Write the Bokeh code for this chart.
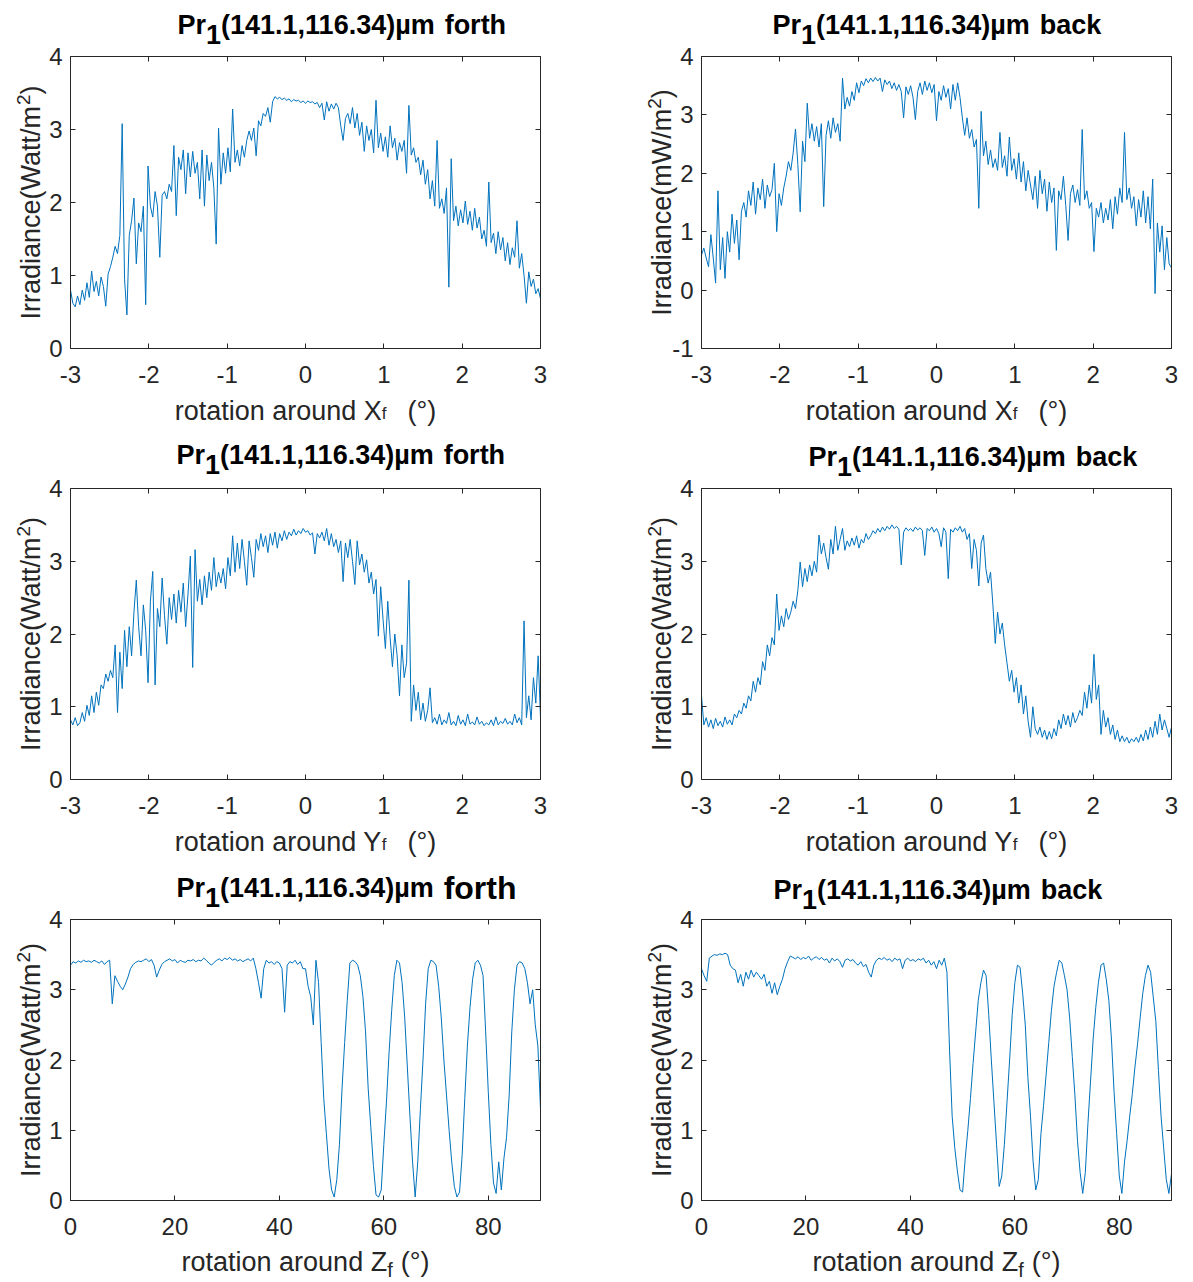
import numpy as np
from bokeh.plotting import figure
from bokeh.models import Range1d, LinearAxis, Label, FixedTicker
from bokeh.layouts import column, row
from bokeh.embed import file_html
from bokeh.resources import INLINE

# ---------------- data ----------------
rot_xy_limits = (-3.0, 3.0)      # degrees, evenly sampled
rot_z_limits = (0.0, 90.0)       # degrees, evenly sampled

irr_x_forth = [
    0.80, 0.62, 0.57, 0.72, 0.60, 0.80, 0.66, 0.90, 0.70, 1.06,
    0.78, 0.92, 0.72, 0.98, 0.85, 0.58, 1.02, 1.12, 1.25, 1.40,
    1.30, 1.55, 3.08, 0.95, 0.46, 1.55, 1.75, 2.06, 1.16, 1.72,
    1.60, 1.95, 0.60, 2.50, 1.95, 1.80, 2.15, 1.95, 1.25, 2.10,
    2.15, 2.05, 2.25, 2.15, 2.78, 1.82, 2.62, 2.45, 2.72, 2.12,
    2.68, 2.35, 2.70, 2.40, 2.55, 2.05, 2.72, 1.95, 2.65, 2.30,
    2.55, 2.20, 1.43, 3.02, 2.25, 2.68, 2.40, 2.75, 2.42, 3.28,
    2.55, 2.72, 2.50, 2.78, 2.62, 2.85, 2.98, 2.85, 3.02, 2.64,
    3.12, 3.05, 3.22, 3.18, 3.30, 3.10, 3.38, 3.45, 3.42, 3.44,
    3.41, 3.43, 3.40, 3.42, 3.38, 3.41, 3.39, 3.40, 3.37, 3.39,
    3.36, 3.39, 3.37, 3.38, 3.35, 3.37, 3.30, 3.36, 3.13, 3.38,
    3.25, 3.35, 3.28, 3.36, 3.30, 3.05, 2.85, 3.15, 3.22, 3.08,
    3.30, 3.02, 3.22, 2.92, 3.10, 2.70, 3.05, 2.85, 3.00, 2.68,
    3.40, 2.75, 2.95, 2.70, 2.90, 2.62, 3.05, 2.75, 2.88, 2.58,
    2.82, 2.70, 2.85, 2.40, 3.33, 2.65, 2.75, 2.55, 2.62, 2.38,
    2.58, 2.25, 2.45, 2.05, 2.30, 1.95, 2.85, 1.92, 2.05, 1.85,
    2.20, 0.84, 2.60, 1.75, 1.95, 1.68, 1.90, 1.72, 2.02, 1.70,
    1.88, 1.62, 1.92, 1.65, 1.80, 1.50, 1.62, 1.40, 2.28, 1.45,
    1.58, 1.30, 1.60, 1.35, 1.52, 1.20, 1.45, 1.15, 1.38, 1.25,
    1.75, 1.10, 1.30, 1.00, 0.62, 1.05, 0.85, 0.95, 0.75, 0.82,
    0.68]

irr_x_back = [
    0.60, 0.72, 0.55, 0.40, 0.95, 0.55, 0.12, 1.70, 0.35, 0.90,
    0.20, 1.00, 0.65, 1.30, 0.80, 1.20, 0.52, 1.35, 1.50, 1.25,
    1.70, 1.45, 1.85, 1.30, 1.75, 1.55, 1.90, 1.40, 1.80, 1.60,
    1.72, 2.17, 1.00, 1.65, 1.45, 1.75, 1.95, 2.20, 2.05, 2.35,
    2.76, 2.15, 1.34, 2.55, 2.20, 3.20, 2.60, 2.85, 2.55, 2.80,
    2.45, 2.85, 1.43, 2.65, 2.90, 2.60, 2.95, 2.70, 2.85, 2.55,
    3.63, 3.10, 3.30, 3.15, 3.40, 3.25, 3.55, 3.38, 3.58, 3.50,
    3.62, 3.55, 3.63, 3.57, 3.64, 3.58, 3.63, 3.40, 3.60, 3.52,
    3.58, 3.45, 3.55, 3.42, 3.52, 3.40, 2.95, 3.48, 3.35, 3.50,
    3.30, 2.92, 3.40, 3.55, 3.35, 3.58, 3.42, 3.55, 3.38, 3.52,
    2.90, 3.40, 3.25, 3.50, 3.30, 3.45, 3.10, 3.52, 3.25, 3.55,
    3.30, 2.95, 2.65, 2.95, 2.60, 2.75, 2.45, 2.58, 1.40, 3.06,
    2.30, 2.55, 2.15, 2.40, 2.10, 2.25, 2.05, 2.70, 2.10, 2.30,
    1.95, 2.62, 2.05, 2.25, 1.90, 2.35, 1.85, 2.20, 1.70, 2.05,
    1.80, 1.55, 1.95, 1.40, 2.05, 1.65, 1.90, 1.35, 1.85, 1.50,
    1.75, 0.68, 1.70, 1.55, 1.95, 1.45, 0.85, 1.65, 1.80, 1.50,
    1.72, 1.45, 2.75, 1.55, 1.70, 1.40, 1.50, 0.66, 1.40, 1.25,
    1.50, 1.15, 1.40, 1.20, 1.55, 1.05, 1.60, 1.30, 1.75, 1.50,
    2.70, 1.55, 1.75, 1.40, 1.60, 1.10, 1.55, 1.25, 1.70, 1.15,
    1.60, 1.05, 1.90, -0.06, 1.15, 0.65, 1.10, 0.35, 0.90, 0.45,
    0.38]

irr_y_forth = [
    0.82, 0.75, 0.85, 0.74, 0.78, 0.92, 0.80, 1.02, 0.88, 1.15,
    0.92, 1.20, 1.02, 1.30, 1.25, 1.45, 1.35, 1.50, 1.40, 1.85,
    0.92, 1.75, 1.25, 2.05, 1.55, 2.10, 1.70, 2.30, 2.74, 2.10,
    1.70, 2.40, 2.05, 1.33, 2.45, 2.86, 1.30, 2.35, 2.10, 2.77,
    2.25, 1.86, 2.50, 2.20, 2.55, 2.15, 2.60, 2.30, 2.70, 2.10,
    2.55, 3.07, 1.54, 3.16, 2.45, 2.75, 2.40, 2.80, 2.50, 2.85,
    2.60, 3.05, 2.65, 2.85, 2.70, 2.90, 2.62, 3.05, 2.80, 3.35,
    2.85, 3.25, 2.90, 3.30, 3.00, 2.67, 3.28, 3.05, 2.78, 3.30,
    3.15, 3.38, 3.20, 3.35, 3.12, 3.38, 3.22, 3.40, 3.18, 3.38,
    3.28, 3.42, 3.30, 3.40, 3.35, 3.44, 3.36, 3.42, 3.38, 3.45,
    3.40, 3.42, 3.36, 3.39, 3.10, 3.38, 3.32, 3.40, 3.28, 3.45,
    3.22, 3.38, 3.20, 3.30, 3.12, 3.28, 2.72, 3.25, 3.05, 3.30,
    3.00, 2.68, 3.28, 2.95, 3.10, 2.85, 3.02, 2.70, 2.85, 2.55,
    2.75, 1.97, 2.65, 2.20, 1.80, 2.45, 1.95, 1.55, 2.00, 1.70,
    1.15, 1.85, 1.40, 1.60, 2.74, 0.80, 1.30, 0.95, 1.20, 0.82,
    1.05, 0.80, 0.95, 1.26, 0.78, 0.85, 0.76, 0.90, 0.75, 0.82,
    0.77, 0.92, 0.75, 0.80, 0.74, 0.88, 0.76, 0.82, 0.74, 0.90,
    0.76, 0.79, 0.75, 0.86, 0.76, 0.80, 0.74, 0.78, 0.75, 0.82,
    0.74, 0.86, 0.75, 0.80, 0.77, 0.84, 0.76, 0.80, 0.75, 0.90,
    0.78, 0.85, 0.75, 2.18, 0.85, 1.15, 0.82, 1.40, 1.05, 1.70,
    0.85]

irr_y_back = [
    1.15, 0.75, 0.85, 0.72, 0.82, 0.70, 0.84, 0.74, 0.80, 0.72,
    0.86, 0.76, 0.82, 0.75, 0.90, 0.85, 0.95, 0.90, 1.05, 0.98,
    1.15, 1.08, 1.35, 1.20, 1.40, 1.30, 1.62, 1.50, 1.85, 1.70,
    1.95, 1.85, 2.55, 2.05, 2.25, 2.10, 2.35, 2.20, 2.30, 2.45,
    2.35, 2.60, 2.99, 2.65, 2.90, 2.72, 2.95, 2.80, 3.00, 2.85,
    3.36, 3.10, 3.25, 3.05, 2.89, 3.30, 3.10, 3.48, 3.15, 3.30,
    3.45, 3.15, 3.28, 3.20, 3.32, 3.22, 3.35, 3.18, 3.30, 3.25,
    3.38, 3.30, 3.35, 3.42, 3.38, 3.45, 3.40, 3.47, 3.42, 3.48,
    3.44, 3.50, 3.45, 3.48, 3.44, 2.95, 3.40, 3.46, 3.42, 3.45,
    3.41, 3.47, 3.43, 3.46, 3.42, 3.08, 3.45, 3.42, 3.47, 3.40,
    3.45, 3.38, 3.20, 3.46, 3.40, 2.76, 3.44, 3.40, 3.46, 3.42,
    3.48, 3.40, 3.45, 3.30, 3.38, 2.90, 3.30, 3.15, 2.66, 3.25,
    3.36, 2.90, 2.70, 2.85, 2.40, 1.87, 2.30, 2.00, 2.15, 1.85,
    1.60, 1.35, 1.50, 1.20, 1.40, 1.05, 1.30, 0.90, 1.15, 0.80,
    0.58, 1.00, 0.70, 0.62, 0.72, 0.58, 0.68, 0.55, 0.66, 0.56,
    0.70, 0.60, 0.82, 0.70, 0.90, 0.75, 0.88, 0.72, 0.92, 0.78,
    0.85, 0.95, 0.88, 1.20, 0.98, 1.30, 1.05, 1.72, 1.10, 1.30,
    0.62, 0.95, 0.72, 0.85, 0.62, 0.75, 0.55, 0.68, 0.52, 0.60,
    0.52, 0.58, 0.50, 0.56, 0.52, 0.58, 0.51, 0.62, 0.53, 0.68,
    0.55, 0.72, 0.58, 0.80, 0.62, 0.90, 0.68, 0.82, 0.70, 0.58,
    0.72]

irr_z_forth = [
    3.35, 3.40, 3.38, 3.41, 3.39, 3.42, 3.40, 3.41, 3.39, 3.42,
    3.40, 3.38, 3.41, 3.36, 3.40, 3.42, 2.80, 3.20, 3.12, 3.05,
    3.00, 3.08, 3.18, 3.30, 3.36, 3.39, 3.41, 3.40, 3.42, 3.44,
    3.40, 3.43, 3.35, 3.18, 3.28, 3.36, 3.40, 3.42, 3.44, 3.41,
    3.43, 3.38, 3.42, 3.40, 3.39, 3.42, 3.41, 3.43, 3.40, 3.42,
    3.41, 3.45, 3.42, 3.38, 3.35, 3.39, 3.42, 3.44, 3.41, 3.45,
    3.43, 3.46, 3.42, 3.44, 3.41, 3.43, 3.40, 3.42, 3.44, 3.41,
    3.45, 3.30, 3.10, 2.88, 3.30, 3.42, 3.38, 3.40, 3.36, 3.40,
    3.38, 3.30, 2.68, 3.35, 3.40, 3.38, 3.42, 3.36, 3.40, 3.30,
    3.30, 3.05, 2.90, 2.50, 3.42, 3.10, 2.25, 1.45, 0.95, 0.45,
    0.15, 0.05, 0.30, 0.80, 1.60, 2.25, 2.85, 3.38, 3.42, 3.40,
    3.35, 3.20, 2.90, 2.40, 1.60, 1.05, 0.50, 0.08, 0.05, 0.15,
    0.80, 1.40, 2.10, 2.70, 3.20, 3.42, 3.38, 3.10, 2.60, 1.90,
    1.20, 0.55, 0.05, 0.55, 1.30, 2.00, 2.80, 3.30, 3.42, 3.40,
    3.35, 3.05, 2.60, 2.00, 1.50, 1.00, 0.55, 0.20, 0.05, 0.12,
    0.65, 1.45, 2.20, 2.75, 3.15, 3.38, 3.42, 3.35, 3.20, 2.40,
    1.55, 0.80, 0.25, 0.10, 0.55, 0.15, 0.60, 0.90, 1.50, 2.40,
    3.00, 3.35, 3.40, 3.38, 3.30, 3.10, 2.80, 3.00, 2.50, 2.20,
    1.30]

irr_z_back = [
    3.30, 3.20, 3.12, 3.45, 3.48, 3.50, 3.49, 3.51, 3.50, 3.52,
    3.50, 3.35, 3.30, 3.28, 3.10, 3.22, 3.05, 3.25, 3.15, 3.28,
    3.18, 3.25, 3.20, 3.15, 3.22, 3.05, 3.12, 2.95, 3.10, 2.93,
    3.05, 3.15, 3.30, 3.40, 3.48, 3.46, 3.44, 3.47, 3.43, 3.46,
    3.44, 3.48, 3.42, 3.45, 3.47, 3.43, 3.46, 3.42, 3.44, 3.38,
    3.45, 3.41, 3.44, 3.40, 3.32, 3.42, 3.44, 3.41, 3.43, 3.38,
    3.35, 3.40, 3.33, 3.36, 3.25, 3.18, 3.35, 3.42, 3.45, 3.43,
    3.46, 3.42, 3.44, 3.40, 3.45, 3.42, 3.44, 3.30, 3.42, 3.45,
    3.41, 3.43, 3.40, 3.44, 3.42, 3.45, 3.38, 3.42, 3.35, 3.40,
    3.30, 3.42, 3.35, 3.45, 3.25, 2.14, 1.20, 0.75, 0.42, 0.15,
    0.12, 0.60, 1.00, 1.45, 1.95, 2.40, 2.85, 3.10, 3.28, 3.20,
    2.65, 2.00, 1.40, 0.80, 0.20, 0.35, 0.80, 1.40, 2.00, 2.65,
    3.10, 3.35, 3.32, 2.95, 2.50, 1.75, 1.20, 0.55, 0.15, 0.30,
    0.95, 1.35, 1.80, 2.25, 2.70, 3.05, 3.25, 3.42, 3.38, 3.20,
    3.00, 2.60, 2.05, 1.50, 0.85, 0.40, 0.10, 0.40, 1.10, 1.70,
    2.30, 2.75, 3.10, 3.35, 3.38, 3.15, 2.85, 2.30, 1.55, 0.95,
    0.35, 0.10, 0.55, 0.85, 1.20, 1.52, 1.90, 2.23, 2.60, 2.95,
    3.20, 3.35, 3.25, 2.90, 2.55, 1.85, 1.20, 0.75, 0.30, 0.10,
    0.38]

xy_ticks = [-3, -2, -1, 0, 1, 2, 3]
z_ticks = [0, 20, 40, 60, 80]
title_head = "Pr"
title_sub = "1"
title_mid = "(141.1,116.34)µm"
ylab_watt = ("Irradiance(Watt/m", "2", ")")
ylab_mw = ("Irradiance(mW/m", "2", ")")

# ---------------- styling / layout ----------------
LINE = "#0072BD"
AX = "#262626"
FONT = "Liberation Sans"
TICK_PX = 24
LAB_PX = 27
SUP_PX = 19
TITLE_PX = 27
BASE_FIX = 9          # alphabetic labels render this many px low

BOLD_W = {'P': .667, 'r': .389, '1': .556, '(': .333, ')': .333, '4': .556,
          '.': .278, ',': .278, '6': .556, '3': .556, 'µ': .611, 'm': .889,
          ' ': .278, 'f': .333, 'o': .611, 't': .333, 'h': .611, 'b': .611,
          'a': .556, 'c': .556, 'k': .556}
REG_W = {' ': .278, '(': .333, ')': .333, '°': .4, 'r': .333, 'o': .556, 't': .278,
         'a': .556, 'i': .222, 'n': .556, 'u': .556, 'd': .556, 'X': .667, 'Y': .667,
         'Z': .611, 'f': .278, 'I': .278, 'c': .5, 'e': .556, 'W': .944, '/': .278,
         'm': .833, '2': .556}


def tw(s, size, table):
    return sum(table.get(c, 0.556) for c in s) * size


def tick_labels(ticks):
    return {t: str(t) for t in ticks}


def panel(xs, ys, xlim, ylim, xticks, yticks, fig_left, fig_top, W, H, box,
          word, word_px, title_x, title_base, ylab, xl_main, xl_sub, xl_base,
          sub_px, sub_drop, paren_gap):
    L, T, R, B = box                       # page pixels of the axes box
    lx, rx = L - fig_left, R - fig_left
    ty, by = T - fig_top, B - fig_top
    kx = (xlim[1] - xlim[0]) / (rx - lx)
    ky = (ylim[1] - ylim[0]) / (by - ty)
    xr = Range1d(xlim[0] - lx * kx, xlim[1] + (W - rx) * kx)
    yr = Range1d(ylim[0] - (H - by) * ky, ylim[1] + ty * ky)
    p = figure(width=W, height=H, x_range=xr, y_range=yr, title=None,
               x_axis_location=None, y_axis_location=None,
               output_backend="svg", toolbar_location=None, min_border=0,
               background_fill_color="white", border_fill_color="white")
    p.grid.visible = False
    p.outline_line_color = None

    specs = [("below", ylim[0], xlim, xticks, True),
             ("above", ylim[1], xlim, xticks, False),
             ("left", xlim[0], ylim, yticks, True),
             ("right", xlim[1], ylim, yticks, False)]
    for loc, fixed, bounds, ticks, show in specs:
        ax = LinearAxis(fixed_location=fixed, bounds=bounds,
                        ticker=FixedTicker(ticks=ticks),
                        axis_line_color=AX, axis_line_width=1,
                        major_tick_line_color=AX, major_tick_in=5, major_tick_out=0,
                        minor_tick_line_color=None,
                        major_label_text_font=FONT,
                        major_label_text_font_size=f"{TICK_PX}px",
                        major_label_text_color=AX if show else None,
                        major_label_overrides=tick_labels(ticks),
                        major_label_standoff=17 if loc == "below" else 8)
        p.add_layout(ax, loc)

    p.line(xs, ys, line_color=LINE, line_width=1.0)

    def txt(px, py, text, size, bold=False, align="left", baseline="alphabetic",
            angle=0.0, color=AX):
        if baseline == "alphabetic":
            py = py - BASE_FIX
        p.add_layout(Label(x=px - fig_left, y=fig_top + H - py,
                           x_units="screen", y_units="screen",
                           text=text, text_font=FONT, text_font_size=f"{size}px",
                           text_font_style="bold" if bold else "normal",
                           text_color=color, text_align=align,
                           text_baseline=baseline, angle=angle))

    # title  Pr_1(...)µm forth/back
    x1 = title_x + tw(title_head, TITLE_PX, BOLD_W)
    x2 = x1 + tw(title_sub, TITLE_PX, BOLD_W)
    x3 = x2 + tw(title_mid, TITLE_PX, BOLD_W) + tw(" ", TITLE_PX, BOLD_W)
    txt(title_x, title_base, title_head, TITLE_PX, bold=True, color="black")
    txt(x1, title_base + 10, title_sub, TITLE_PX, bold=True, color="black")
    txt(x2, title_base, title_mid, TITLE_PX, bold=True, color="black")
    txt(x3, title_base, word, word_px, bold=True, color="black")

    # y label with superscript 2 (rotated, reads bottom-to-top)
    cx, cy = L - 40, (T + B) / 2
    w1 = tw(ylab[0], LAB_PX, REG_W)
    w2 = tw(ylab[1], SUP_PX, REG_W)
    w3 = tw(ylab[2], LAB_PX, REG_W)
    y0 = cy + (w1 + w2 + w3) / 2
    txt(cx, y0, ylab[0], LAB_PX, baseline="middle", angle=np.pi / 2)
    txt(cx - 7, y0 - w1, ylab[1], SUP_PX, baseline="middle", angle=np.pi / 2)
    txt(cx, y0 - w1 - w2, ylab[2], LAB_PX, baseline="middle", angle=np.pi / 2)

    # x label with subscript f
    paren = "(°)"
    w_main = tw(xl_main, LAB_PX, REG_W)
    w_sub = tw(xl_sub, sub_px, REG_W)
    w_par = tw(paren, LAB_PX, REG_W)
    sx = (L + R) / 2 - (w_main + w_sub + paren_gap + w_par) / 2
    txt(sx, xl_base, xl_main, LAB_PX)
    txt(sx + w_main, xl_base + sub_drop, xl_sub, sub_px)
    txt(sx + w_main + w_sub + paren_gap, xl_base, paren, LAB_PX)
    return p


n = len
xs1 = np.linspace(*rot_xy_limits, n(irr_x_forth))
xs2 = np.linspace(*rot_xy_limits, n(irr_x_back))
xs3 = np.linspace(*rot_xy_limits, n(irr_y_forth))
xs4 = np.linspace(*rot_xy_limits, n(irr_y_back))
xs5 = np.linspace(*rot_z_limits, n(irr_z_forth))
xs6 = np.linspace(*rot_z_limits, n(irr_z_back))

WL, WR = 620, 572
H1, H2, H3 = 432, 432, 417
Y1, Y2, Y3 = 0, 432, 864
XL, XR = 0, 620
LB, RB = (70, 540), (701, 1171)

p1 = panel(xs1, irr_x_forth, rot_xy_limits, (0, 4), xy_ticks, [0, 1, 2, 3, 4],
           XL, Y1, WL, H1, (LB[0], 56, LB[1], 348), "forth", TITLE_PX, 177, 33, ylab_watt,
           "rotation around X", "f", 419, 17, 3, 21)
p2 = panel(xs2, irr_x_back, rot_xy_limits, (-1, 4), xy_ticks, [-1, 0, 1, 2, 3, 4],
           XR, Y1, WR, H1, (RB[0], 56, RB[1], 348), "back", TITLE_PX, 772, 33, ylab_mw,
           "rotation around X", "f", 419, 17, 3, 21)
p3 = panel(xs3, irr_y_forth, rot_xy_limits, (0, 4), xy_ticks, [0, 1, 2, 3, 4],
           XL, Y2, WL, H2, (LB[0], 488, LB[1], 779), "forth", TITLE_PX, 176, 463, ylab_watt,
           "rotation around Y", "f", 850, 17, 3, 21)
p4 = panel(xs4, irr_y_back, rot_xy_limits, (0, 4), xy_ticks, [0, 1, 2, 3, 4],
           XR, Y2, WR, H2, (RB[0], 488, RB[1], 779), "back", TITLE_PX, 808, 465, ylab_watt,
           "rotation around Y", "f", 850, 17, 3, 21)
p5 = panel(xs5, irr_z_forth, rot_z_limits, (0, 4), z_ticks, [0, 1, 2, 3, 4],
           XL, Y3, WL, H3, (LB[0], 919, LB[1], 1200), "forth", 32, 176, 896, ylab_watt,
           "rotation around Z", "f", 1270, 20, 8, 8)
p6 = panel(xs6, irr_z_back, rot_z_limits, (0, 4), z_ticks, [0, 1, 2, 3, 4],
           XR, Y3, WR, H3, (RB[0], 919, RB[1], 1200), "back", TITLE_PX, 773, 898, ylab_watt,
           "rotation around Z", "f", 1270, 20, 8, 8)

layout = column(row(p1, p2, spacing=0), row(p3, p4, spacing=0), row(p5, p6, spacing=0),
                spacing=0)
open("out.html", "w").write(file_html(layout, INLINE))
